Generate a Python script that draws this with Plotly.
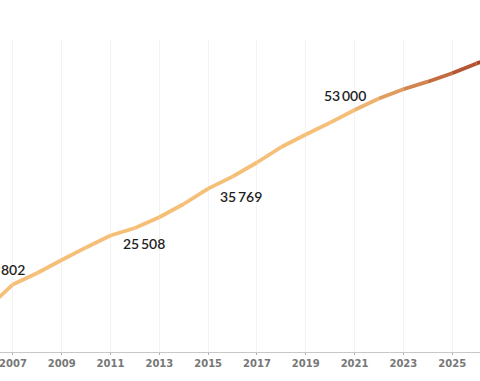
import plotly.graph_objects as go

years = [2005, 2006, 2007, 2008, 2009, 2010, 2011, 2012, 2013, 2014, 2015,
         2016, 2017, 2018, 2019, 2020, 2021, 2022, 2023, 2024, 2025, 2026, 2027]
values = [5500, 9802, 14802, 17300, 20150, 22900, 25508, 27160, 29520, 32410, 35769,
          38410, 41500, 44900, 47630, 50240, 53000, 55520, 57530, 59200, 61030, 63200, 65000]

label_years = [2007, 2011, 2015, 2021]
label_texts = ["14\u2009802", "25\u2009508", "35\u2009769", "53\u2009000"]
label_xshift = [-9, 33, 33, -10]
label_yshift = [15, -8, -8, 14]

tick_years = [2007, 2009, 2011, 2013, 2015, 2017, 2019, 2021, 2023, 2025]

light = (246, 191, 120)
dark = (172, 68, 38)
grad_start, grad_end = 2021.0, 2026.2


def seg_color(y0, y1):
    t = ((y0 + y1) / 2 - grad_start) / (grad_end - grad_start)
    t = max(0.0, min(1.0, t))
    c = [round(light[i] + (dark[i] - light[i]) * t) for i in range(3)]
    return f"rgb({c[0]},{c[1]},{c[2]})"


fig = go.Figure()
for i in range(len(years) - 1):
    fig.add_trace(go.Scatter(
        x=years[i:i + 2], y=values[i:i + 2], mode="lines",
        line=dict(color=seg_color(years[i], years[i + 1]), width=3.8),
        hoverinfo="skip", showlegend=False))

val_by_year = dict(zip(years, values))
for yr, txt, dx, dy in zip(label_years, label_texts, label_xshift, label_yshift):
    fig.add_annotation(x=yr, y=val_by_year[yr], text=txt, showarrow=False,
                       xshift=dx, yshift=dy, xanchor="center", yanchor="middle",
                       font=dict(family="Lato", size=14, color="#1e1e1e", weight=600))

fig.update_layout(
    width=480, height=381,
    margin=dict(l=0, r=0, t=40, b=29, autoexpand=False),
    paper_bgcolor="white", plot_bgcolor="white",
    showlegend=False,
)
fig.update_xaxes(
    range=[2006.47, 2026.14], automargin=False, ticklabeloverflow="allow",
    tickvals=tick_years, ticktext=[str(y) for y in tick_years],
    showgrid=True, gridcolor="#f3f3f3", gridwidth=1,
    showline=True, linecolor="#c8c8c8", linewidth=1,
    ticks="outside", ticklen=2, tickcolor="#b0b0b0",
    tickfont=dict(family="DejaVu Sans", size=10, color="#777777", weight="bold"),
    zeroline=False,
)
fig.update_yaxes(range=[0, 68328], showgrid=False, showticklabels=False,
                 automargin=False, zeroline=False, showline=False, ticks="")

fig.write_html("out.html", config={"displayModeBar": False},
               post_script="document.body.style.margin='0px';document.body.style.overflow='hidden';")
